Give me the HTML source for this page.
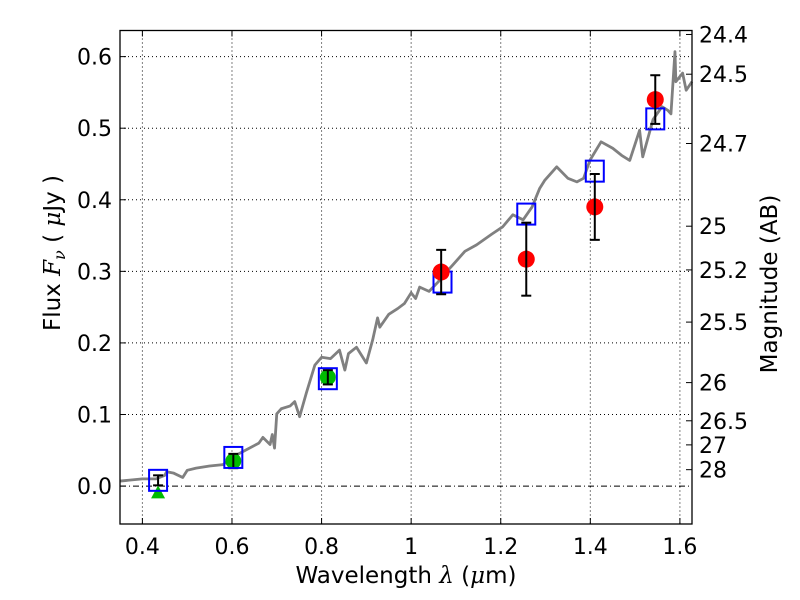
<!DOCTYPE html>
<html><head><meta charset="utf-8"><style>
body{margin:0;background:#fff;}
svg{display:block;font-family:"DejaVu Sans","Liberation Sans",sans-serif;}
</style></head><body>
<svg id="chart" width="800" height="600" viewBox="0 0 800 600">
<rect width="800" height="600" fill="#fff"/>
<g id="grid"></g>
<g id="spec"></g>
<g id="marks"></g>
<rect x="120" y="30.5" width="572" height="493.5" fill="none" stroke="#000" stroke-width="1.3"/>
<g id="axes"></g>
<text x="406" y="583" font-size="23" text-anchor="middle">Wavelength  <tspan font-style="italic" font-family="DejaVu Serif, serif">λ</tspan> (<tspan font-style="italic" font-family="DejaVu Serif, serif">μ</tspan>m)</text>
<text transform="translate(60,253) rotate(-90)" font-size="23" text-anchor="middle">Flux  <tspan font-style="italic" font-family="DejaVu Serif, serif">F</tspan><tspan font-style="italic" font-size="16" dy="5" font-family="DejaVu Serif, serif">ν</tspan><tspan dy="-5">  ( </tspan><tspan font-style="italic" font-family="DejaVu Serif, serif">μ</tspan>Jy )</text>
<text transform="translate(777,284) rotate(-90)" font-size="23" text-anchor="middle">Magnitude (AB)</text>
</svg>
<script>
const xTicks=[0.4,0.6,0.8,1.0,1.2,1.4,1.6];
const xTickLabels=["0.4","0.6","0.8","1","1.2","1.4","1.6"];
const yTicks=[0,0.1,0.2,0.3,0.4,0.5,0.6];
const yTickLabels=["0.0","0.1","0.2","0.3","0.4","0.5","0.6"];
const magTicks=[24.4,24.5,24.7,25,25.2,25.5,26,26.5,27,28];
const specWave=[0.35,0.40,0.43,0.45,0.454,0.47,0.49,0.50,0.52,0.55,0.58,0.60,0.63,0.66,0.669,0.685,0.69,0.695,0.70,0.71,0.73,0.74,0.751,0.766,0.785,0.80,0.82,0.84,0.852,0.86,0.878,0.90,0.914,0.925,0.93,0.95,0.97,0.985,1.0,1.01,1.019,1.04,1.06,1.08,1.093,1.12,1.146,1.18,1.204,1.227,1.25,1.27,1.287,1.298,1.325,1.35,1.37,1.385,1.399,1.424,1.45,1.47,1.488,1.51,1.517,1.54,1.56,1.573,1.58,1.589,1.591,1.606,1.614,1.627];
const specFlux=[0.007,0.010,0.010,0.015,0.020,0.018,0.012,0.022,0.025,0.028,0.030,0.040,0.050,0.060,0.068,0.058,0.072,0.053,0.101,0.108,0.112,0.118,0.097,0.130,0.169,0.180,0.178,0.190,0.162,0.185,0.194,0.172,0.204,0.235,0.222,0.240,0.248,0.255,0.270,0.262,0.278,0.272,0.285,0.300,0.309,0.328,0.337,0.352,0.362,0.379,0.372,0.39,0.416,0.427,0.446,0.43,0.425,0.43,0.455,0.481,0.472,0.462,0.455,0.497,0.460,0.512,0.530,0.525,0.520,0.607,0.565,0.577,0.553,0.565];
const modelWave=[0.435,0.603,0.814,1.070,1.257,1.410,1.545];
const modelFlux=[0.008,0.040,0.150,0.285,0.380,0.440,0.513];
const greenWave=[0.603,0.814];
const greenFlux=[0.035,0.152];
const greenErr=[0.010,0.010];
const triWave=[0.435];
const triFlux=[0.008];
const triErr=[0.007];
const redWave=[1.067,1.257,1.410,1.545];
const redFlux=[0.299,0.317,0.390,0.540];
const redErr=[0.031,0.051,0.046,0.034];

const X0=120,X1=692,Y0=524,Y1=30.5,xmin=0.35,xmax=1.627,ymin=-0.053,ymax=0.6365;
const sx=v=>X0+(v-xmin)/(xmax-xmin)*(X1-X0);
const sy=v=>Y0-(v-ymin)/(ymax-ymin)*(Y0-Y1);
const NS="http://www.w3.org/2000/svg";
function mk(p,t,a){const e=document.createElementNS(NS,t);for(const k in a)e.setAttribute(k,a[k]);p.appendChild(e);return e;}
const grid=document.getElementById('grid'),axes=document.getElementById('axes');
xTicks.forEach((t,i)=>{const x=sx(t);
 const g=mk(grid,'line',{x1:x,x2:x,y1:Y1,y2:Y0,stroke:'#000','stroke-width':1,'stroke-dasharray':'1,3'});
 
 mk(axes,'line',{x1:x,x2:x,y1:Y0,y2:Y0-6,stroke:'#000'});mk(axes,'line',{x1:x,x2:x,y1:Y1,y2:Y1+6,stroke:'#000'});
 const l=mk(axes,'text',{x:x,y:554,'font-size':22,'text-anchor':'middle'});l.textContent=xTickLabels[i];
 });
yTicks.forEach((t,i)=>{const y=sy(t);
 const g=mk(grid,'line',{x1:X0,x2:X1,y1:y,y2:y,stroke:'#000','stroke-width':1,'stroke-dasharray':t===0?'6,3,1,3':'1,3'});
 
 mk(axes,'line',{x1:X0,x2:X0+6,y1:y,y2:y,stroke:'#000'});
 const l=mk(axes,'text',{x:112,y:y+8,'font-size':22,'text-anchor':'end'});l.textContent=yTickLabels[i];
 });
magTicks.forEach(m=>{const f=Math.pow(10,(23.9-m)/2.5),y=sy(f);
 mk(axes,'line',{x1:X1-6,x2:X1,y1:y,y2:y,stroke:'#000'});
 const l=mk(axes,'text',{x:699,y:y+8,'font-size':22});l.textContent=String(m);
 });
const spec=document.getElementById('spec');
const pl=mk(spec,'polyline',{points:specWave.map((w,i)=>sx(w)+','+sy(specFlux[i])).join(' '),fill:'none',stroke:'#808080','stroke-width':2.8,'stroke-linejoin':'round'});

const marks=document.getElementById('marks');
function err(x,f,e){const a=sy(f+e),b=sy(f-e);
 mk(marks,'line',{x1:x,x2:x,y1:a,y2:b,stroke:'#000','stroke-width':2});
 mk(marks,'line',{x1:x-5,x2:x+5,y1:a,y2:a,stroke:'#000','stroke-width':2});
 mk(marks,'line',{x1:x-5,x2:x+5,y1:b,y2:b,stroke:'#000','stroke-width':2});}
triWave.forEach((w,i)=>{const x=sx(w),y=sy(triFlux[i])+12;
 const t=mk(marks,'polygon',{points:`${x-7},${y+6} ${x+7},${y+6} ${x},${y-7}`,fill:'#00bb00'});
 
 err(x,triFlux[i],triErr[i]);});
greenWave.forEach((w,i)=>{const c=mk(marks,'circle',{cx:sx(w),cy:sy(greenFlux[i]),r:8,fill:'#00bb00'});
 
 err(sx(w),greenFlux[i],greenErr[i]);});
modelWave.forEach((w,i)=>{const r=mk(marks,'rect',{x:sx(w)-9,y:sy(modelFlux[i])-10.5,width:18,height:21,fill:'none',stroke:'#0000ff','stroke-width':2});
 });
redWave.forEach((w,i)=>{const c=mk(marks,'circle',{cx:sx(w),cy:sy(redFlux[i]),r:8.5,fill:'#ff0000'});
 
 err(sx(w),redFlux[i],redErr[i]);});
</script>
</body></html>
